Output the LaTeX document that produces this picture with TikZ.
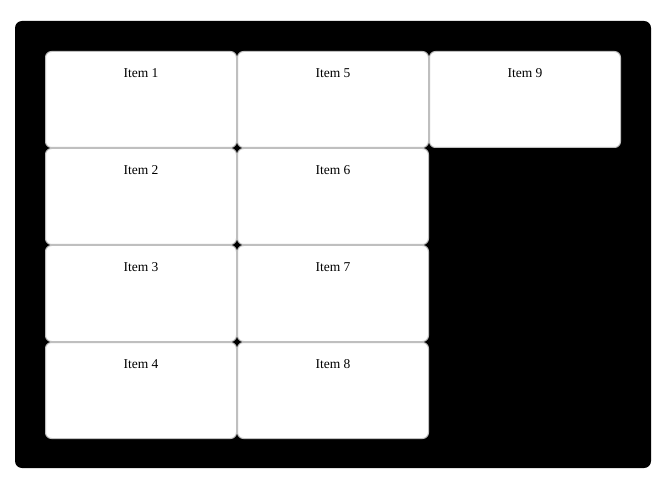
\documentclass[tikz,border=0pt]{standalone}
\usepackage{fontspec}
\setmainfont{Liberation Serif}
\begin{document}
\begin{tikzpicture}[x=1pt,y=-1pt,
  cell/.style={draw=black!25,fill=white,rounded corners=6pt,line width=1pt,minimum width=191pt,minimum height=96pt,anchor=north west},
  lbl/.style={font=\fontsize{13.5}{15}\selectfont,anchor=center}]
\useasboundingbox (0,0) rectangle (666,494);
\fill[black,rounded corners=7pt] (15,21) rectangle (651,468);
\foreach \n/\c/\r in {1/0/0,2/0/1,3/0/2,4/0/3,5/1/0,6/1/1,7/1/2,8/1/3,9/2/0}{
  \node[cell] (c\n) at ({45+192*\c},{51+97*\r}) {};
  \node[lbl] (t\n) at ([yshift=-22pt]c\n.north) {Item \n};
}
\end{tikzpicture}
\end{document}
